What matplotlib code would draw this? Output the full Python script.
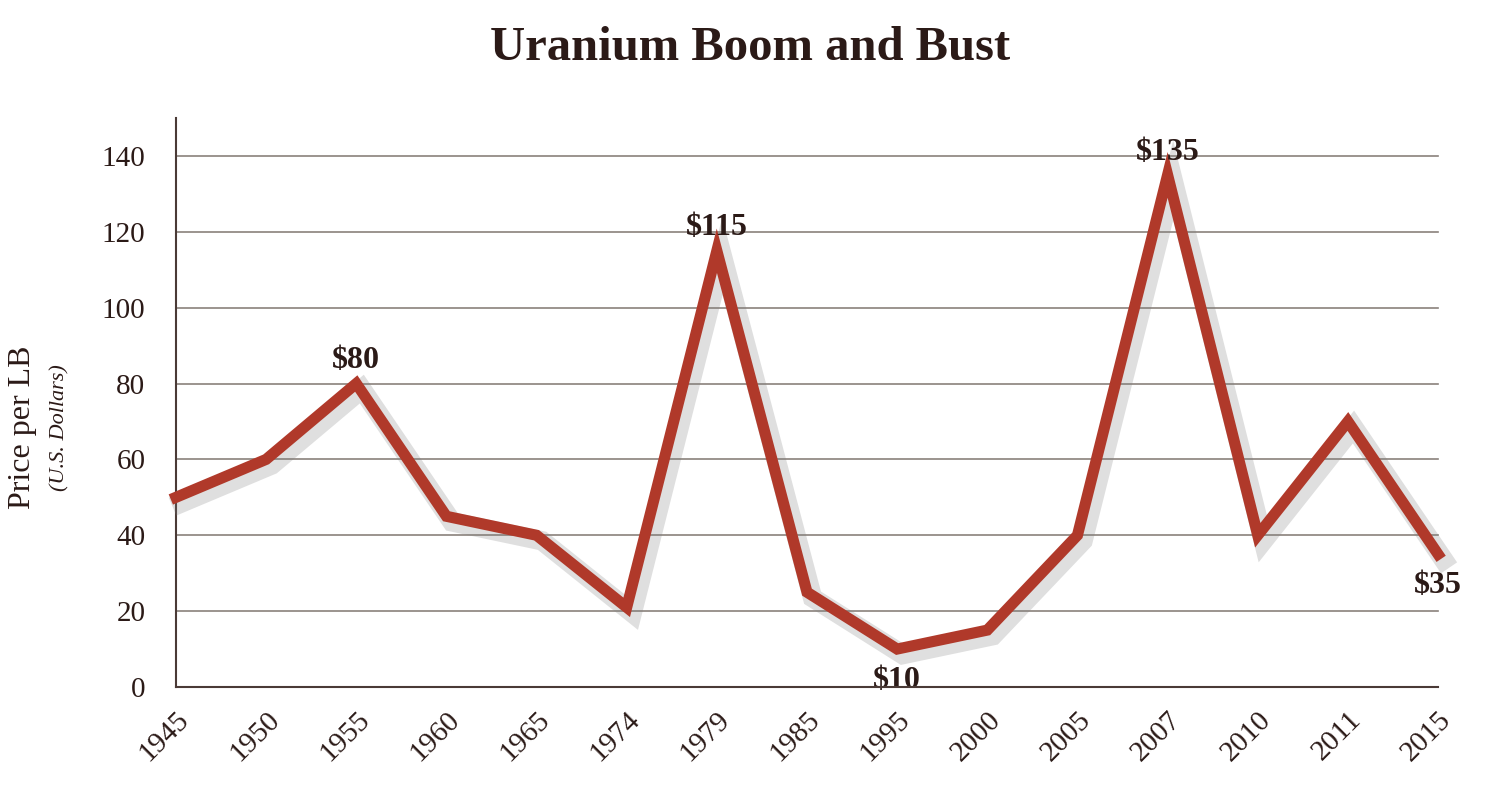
import matplotlib
matplotlib.use("Agg")
import matplotlib.pyplot as plt
import matplotlib.patheffects as pe

years = ["1945","1950","1955","1960","1965","1974","1979","1985","1995","2000","2005","2007","2010","2011","2015"]
prices = [50,60,80,45,40,21,115,25,10,15,40,135,40,70,35]
yticks = [0,20,40,60,80,100,120,140]
annots = {2:"$80",6:"$115",8:"$10",11:"$135",14:"$35"}

txt = "#2b1a17"
red = "#b0392a"
fam = "Liberation Serif"

fig = plt.figure(figsize=(15,8.07), dpi=100)
ax = fig.add_axes([0.1173,0.1487,0.8414,0.7051])
x = list(range(len(years)))
ax.plot(x, prices, color=red, lw=8, solid_joinstyle="miter", zorder=3,
        path_effects=[pe.SimpleLineShadow(offset=(4,-4), shadow_color="gray", alpha=0.25, linewidth=14), pe.Normal()])
ax.set_xlim(0, len(years)-1)
ax.set_ylim(0,150)
ax.set_yticks(yticks)
ax.set_yticklabels([str(v) for v in yticks], fontsize=21, color=txt, family=fam)
ax.set_xticks(x)
ax.set_xticklabels(years, rotation=45, ha="right", rotation_mode="anchor", fontsize=21, color=txt, family=fam)
ax.tick_params(axis="x", length=0, pad=14)
ax.tick_params(axis="y", length=0, pad=22)
for v in yticks[1:]:
    ax.axhline(v, color="#8a817c", lw=1.2, zorder=1)
for s in ["top","right"]:
    ax.spines[s].set_visible(False)
ax.spines["left"].set_color("#4a3a36"); ax.spines["left"].set_linewidth(1.5)
ax.spines["bottom"].set_color("#4a3a36"); ax.spines["bottom"].set_linewidth(1.5)
ax.spines["bottom"].set_zorder(4)
for i, lab in annots.items():
    if i in (8, 14):
        ax.annotate(lab, (x[i], prices[i]), xytext=(0,-12), textcoords="offset points",
                    ha="center", va="top", fontsize=23, fontweight="bold", color=txt, family=fam)
    else:
        ax.annotate(lab, (x[i], prices[i]), xytext=(0,6), textcoords="offset points",
                    ha="center", va="bottom", fontsize=23, fontweight="bold", color=txt, family=fam)
for l in ax.lines: l.set_clip_on(False)
fig.text(0.5, 0.94, "Uranium Boom and Bust", ha="center", va="center", fontsize=35,
         fontweight="bold", color=txt, family=fam)
fig.text(0.015, 0.47, "Price per LB", rotation=90, ha="center", va="center", fontsize=23, color=txt, family=fam)
fig.text(0.04, 0.47, "(U.S. Dollars)", rotation=90, ha="center", va="center", fontsize=16, style="italic", color=txt, family=fam)
fig.savefig("out.png", dpi=100)
